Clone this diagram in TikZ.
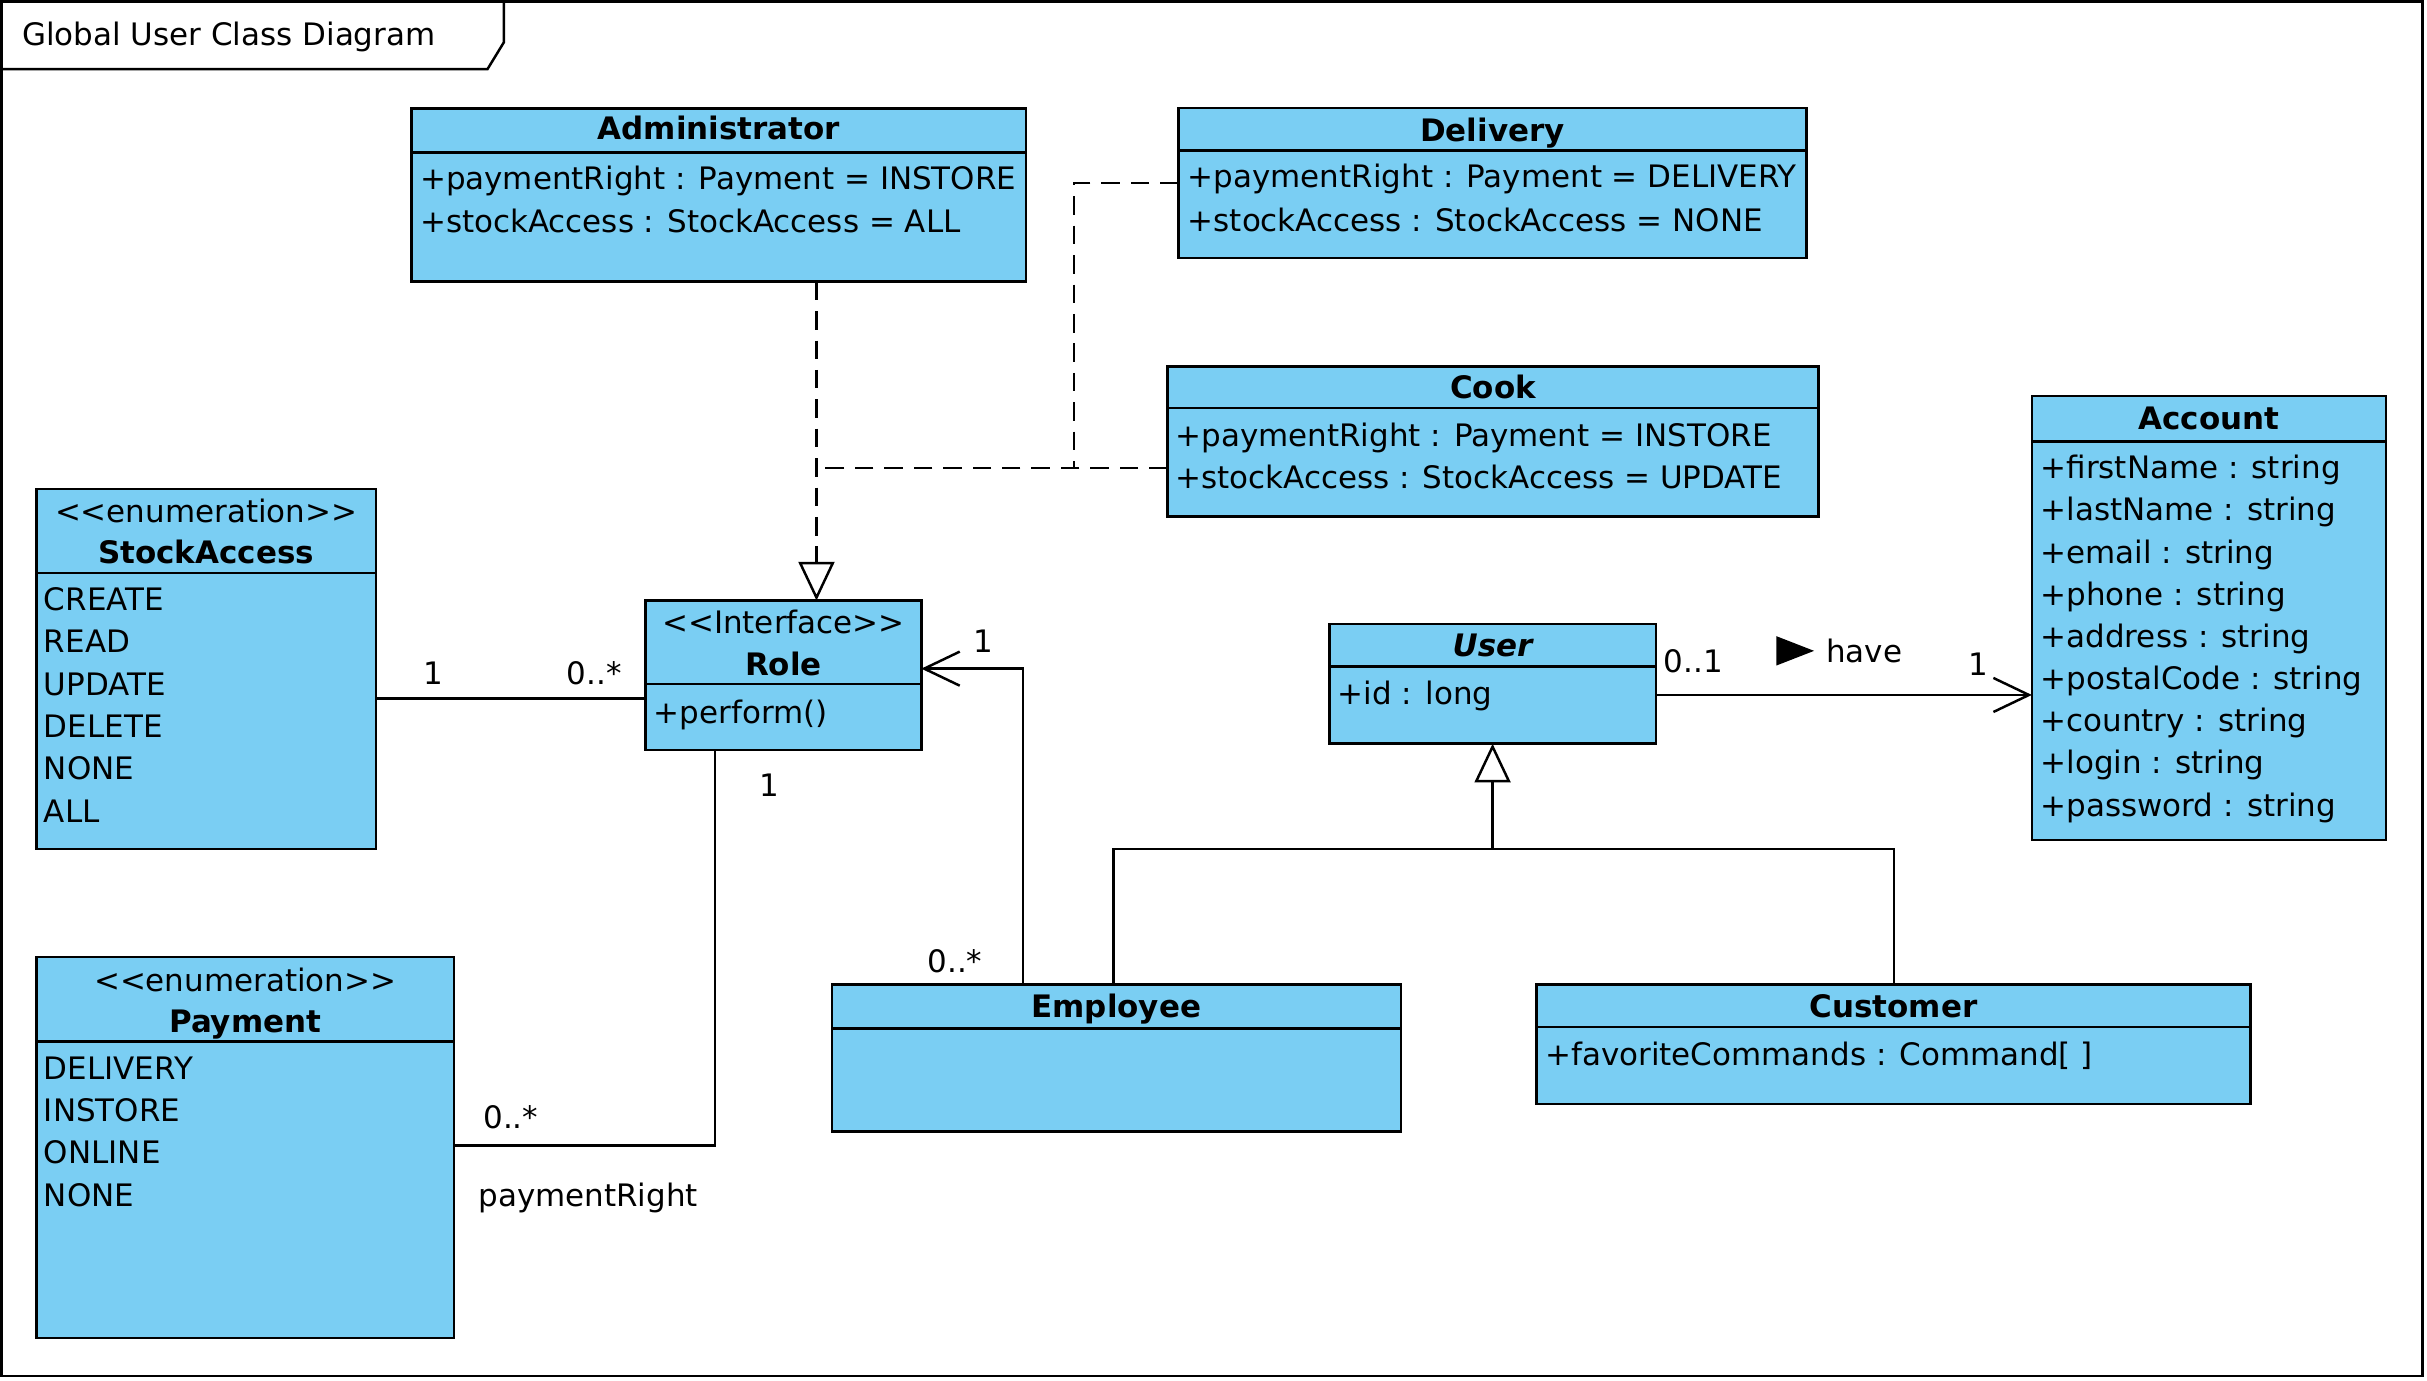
\documentclass[tikz,border=0pt]{standalone}
\usepackage{fontspec}
\setmainfont{DejaVu Sans}
\usepackage{tikz}
\usetikzlibrary{arrows.meta}
\definecolor{classblue}{RGB}{122,206,243}

\begin{document}
\begin{tikzpicture}[x=0.5pt,y=-0.5pt]
  \tikzset{classbox/.style = {draw, fill=classblue, line width=0.8pt, anchor=north west, inner sep=0pt, outer sep=0pt},
           title/.style = {font=\bfseries, text height=7.3pt, text depth=0pt, inner sep=0pt},
           stereo/.style = {text height=7.3pt, text depth=0pt, inner sep=0pt},
           attr/.style = {anchor=west, text height=7.3pt, text depth=0pt, inner sep=0pt},
           mult/.style = {text height=7.3pt, text depth=0pt, inner sep=0pt},
           sepline/.style = {line width=0.8pt},
           assoc/.style = {line width=0.8pt},
           realize/.style = {line width=0.8pt, dash pattern=on 6pt off 3.5pt},
           openhead/.style = {-{Straight Barb[length=11.5pt, width=11pt]}},
           inherit/.style = {-{Triangle[open, length=12.5pt, width=11.6pt, fill=white]}}}
  \useasboundingbox (0,0) rectangle (1568,891.6);

  % frame
  \draw[line width=0.8pt] (1,1) rectangle (1565,889);
  \draw[line width=0.8pt] (1,44.6) -- (315,44.6) -- (325.5,27.4) -- (325.5,1);
  \node[attr] (frame) at (14,22) {Global User Class Diagram};

  % classes
  \node[classbox, minimum width=198.5pt, minimum height=56pt] (admin) at (266,70) {};
  \draw[sepline] ([yshift=-14.3pt]admin.north west) -- ([yshift=-14.3pt]admin.north east);
  \node[title] (admin-t) at (464.5,83) {Administrator};
  \node[attr] (admin-1) at (271,115) {+paymentRight : Payment = INSTORE};
  \node[attr] (admin-2) at (271,143) {+stockAccess : StockAccess = ALL};

  \node[classbox, minimum width=202.8pt, minimum height=48.45pt] (delivery) at (761.4,69.8) {};
  \draw[sepline] ([yshift=-13.7pt]delivery.north west) -- ([yshift=-13.7pt]delivery.north east);
  \node[title] (delivery-t) at (964.2,84) {Delivery};
  \node[attr] (delivery-1) at (767,114) {+paymentRight : Payment = DELIVERY};
  \node[attr] (delivery-2) at (767,142) {+stockAccess : StockAccess = NONE};

  \node[classbox, minimum width=210.35pt, minimum height=48.45pt] (cook) at (754.3,236.8) {};
  \draw[sepline] ([yshift=-13.4pt]cook.north west) -- ([yshift=-13.4pt]cook.north east);
  \node[title] (cook-t) at (964.6,250) {Cook};
  \node[attr] (cook-1) at (759,281) {+paymentRight : Payment = INSTORE};
  \node[attr] (cook-2) at (759,308) {+stockAccess : StockAccess = UPDATE};

  \node[classbox, minimum width=114.4pt, minimum height=143.45pt] (account) at (1312.7,255.8) {};
  \draw[sepline] ([yshift=-14.7pt]account.north west) -- ([yshift=-14.7pt]account.north east);
  \node[title] (account-t) at (1427.1,270) {Account};
  \foreach \txt [count=\i] in {+firstName : string, +lastName : string, +email : string, +phone : string,
      +address : string, +postalCode : string, +country : string, +login : string, +password : string}
    \node[attr] (account-\i) at (1318,302+27.25*\i-27.25) {\txt};

  \node[classbox, minimum width=109.6pt, minimum height=116.4pt] (stock) at (23.6,315.8) {};
  \draw[sepline] ([yshift=-27.25pt]stock.north west) -- ([yshift=-27.25pt]stock.north east);
  \node[stereo] (stock-s) at (133.2,330) {<{}<enumeration>{}>};
  \node[title] (stock-t) at (133.2,357) {StockAccess};
  \foreach \txt [count=\i] in {CREATE, READ, UPDATE, DELETE, NONE, ALL}
    \node[attr] (stock-\i) at (28,387+27.4*\i-27.4) {\txt};

  \node[classbox, minimum width=134.75pt, minimum height=123.15pt] (payment) at (23.7,618.3) {};
  \draw[sepline] ([yshift=-27.35pt]payment.north west) -- ([yshift=-27.35pt]payment.north east);
  \node[stereo] (payment-s) at (158.4,633) {<{}<enumeration>{}>};
  \node[title] (payment-t) at (158.4,660) {Payment};
  \foreach \txt [count=\i] in {DELIVERY, INSTORE, ONLINE, NONE}
    \node[attr] (payment-\i) at (28,690+27.3*\i-27.3) {\txt};

  \node[classbox, minimum width=89.1pt, minimum height=48.35pt] (role) at (417,388) {};
  \draw[sepline] ([yshift=-27pt]role.north west) -- ([yshift=-27pt]role.north east);
  \node[stereo] (role-s) at (506.1,402) {<{}<Interface>{}>};
  \node[title] (role-t) at (506.1,429) {Role};
  \node[attr] (role-1) at (422,460) {+perform()};

  \node[classbox, minimum width=105.5pt, minimum height=38.75pt] (user) at (858.8,403) {};
  \draw[sepline] ([yshift=-13.8pt]user.north west) -- ([yshift=-13.8pt]user.north east);
  \node[title, font=\bfseries\itshape] (user-t) at (964.3,417) {User};
  \node[attr] (user-1) at (864,448) {+id : long};

  \node[classbox, minimum width=183.8pt, minimum height=47.5pt] (employee) at (537.4,636) {};
  \draw[sepline] ([yshift=-14.3pt]employee.north west) -- ([yshift=-14.3pt]employee.north east);
  \node[title] (employee-t) at (721.2,650) {Employee};

  \node[classbox, minimum width=230.65pt, minimum height=38.65pt] (customer) at (992.7,636) {};
  \draw[sepline] ([yshift=-13.7pt]customer.north west) -- ([yshift=-13.7pt]customer.north east);
  \node[title] (customer-t) at (1223.3,650) {Customer};
  \node[attr] (customer-1) at (998,681) {+favoriteCommands : Command[ ]};

  % realizations of Role
  \coordinate (rj) at (527.5,302.5);
  \coordinate (dj) at (694,302.5);
  \draw[realize] (delivery.west) -| (dj);
  \draw[realize] (cook.west |- rj) -- (rj);
  \draw[realize, inherit] (admin.south -| rj) -- (rj |- role.north);

  % generalization of User
  \coordinate (gl) at (719.3,548.6);
  \coordinate (gm) at (964.3,548.6);
  \coordinate (gr) at (1223.6,548.6);
  \draw[assoc] (employee.north -| gl) -- (gl) -- (gr) -- (customer.north -| gr);
  \draw[assoc, inherit] (gm) -- (user.south);

  % associations
  \coordinate (sr) at (330,451.4);
  \draw[assoc] (stock.east |- sr) -- (role.west |- sr);
  \node[mult] (sr-1) at (280,435) {1};
  \node[mult] (sr-2) at (384,435) {0..*};

  \coordinate (pr) at (461.8,740.2);
  \draw[assoc] (role.south -| pr) -- (pr) -- (payment.east |- pr);
  \node[mult] (pr-1) at (497,507) {1};
  \node[mult] (pr-2) at (330,722) {0..*};
  \node[mult] (pr-3) at (380,772) {paymentRight};

  \coordinate (er) at (661,432);
  \draw[assoc, openhead] (employee.north -| er) -- (er) -- (role.east |- er);
  \node[mult] (er-1) at (635,414) {1};
  \node[mult] (er-2) at (617,621) {0..*};

  \coordinate (ua) at (1190,449);
  \draw[assoc, openhead] (user.east |- ua) -- (account.west |- ua);
  \node[mult] (ua-1) at (1094,427) {0..1};
  \node[mult] (ua-2) at (1278,429) {1};
  \node[attr] (have) at (1179.4,421) {have};
  \fill (1147.6,411) -- (1172,420.5) -- (1147.6,430) -- cycle;
\end{tikzpicture}
\end{document}
